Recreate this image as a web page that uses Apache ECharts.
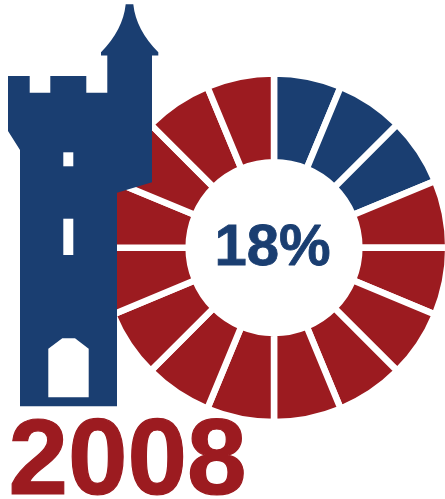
<!DOCTYPE html>
<html>
<head>
<meta charset="utf-8">
<style>html,body{margin:0;padding:0;background:#fff}#chart{width:445px;height:499px}</style>
<script src="https://cdn.jsdelivr.net/npm/echarts@6/dist/echarts.min.js"></script>
</head>
<body>
<div id="chart"></div>
<script>
// One wedge per sixteenth of the ring; the first ones are the filled share.
const wedgeShares = [1, 1, 1, 1, 1, 1, 1, 1, 1, 1, 1, 1, 1, 1, 1, 1];
const filledWedges = 3;
const shareLabel = '18%';
const yearLabel = '2008';

const BLUE = '#1a3e71';
const RED = '#9c1b20';
const GAP = 6.5;
const OUTER = 171;
const INNER = 88.6;

const towerPath =
  'M125.7 4.3 L133.3 4.3 Q136 30 158.3 52.3 L158.3 55.6 L152 55.6 L152 182.3 L117 192.7 ' +
  'L117 406.3 L20 406.3 L20 150 L8 131 L8 76 L29.7 76 L29.7 92.7 L50.3 92.7 L50.3 76 ' +
  'L86.3 76 L86.3 92.7 L107.3 92.7 L107.3 55.6 L101 55.6 L101 52.3 Q123 30 125.7 4.3 Z';
const towerOpenings = [
  'M63.3 152.3 L73.3 152.3 L73.3 166.3 L63.3 166.3 Z',
  'M63.3 218.7 L73.3 218.7 L73.3 255 L63.3 255 Z',
  'M48.3 348.7 L62.3 338.3 L75 338.3 L88.7 348.7 L88.7 397.3 L48.3 397.3 Z'
];

// The graphic component only knows registered shapes, so each outline gets its own.
function outlineElement(name, d, z, fill) {
  echarts.graphic.registerShape(name, echarts.graphic.extendPath(d));
  return { type: name, z, silent: true, style: { fill } };
}

const chart = echarts.init(document.getElementById('chart'), null, { renderer: 'canvas' });
chart.setOption({
  backgroundColor: '#ffffff',
  animation: false,
  series: [{
    type: 'pie',
    silent: true,
    center: [274, 247.7],
    radius: [INNER - GAP / 2, OUTER + GAP / 2],
    startAngle: 90,
    clockwise: true,
    label: { show: false },
    labelLine: { show: false },
    itemStyle: { borderColor: '#ffffff', borderWidth: GAP },
    data: wedgeShares.map((value, i) => ({
      value,
      itemStyle: { color: i < filledWedges ? BLUE : RED }
    }))
  }],
  graphic: {
    elements: [
      outlineElement('towerBody', towerPath, 10, BLUE),
      ...towerOpenings.map((d, i) => outlineElement('towerOpening' + i, d, 11, '#ffffff')),
      {
        type: 'text', z: 12, silent: true,
        style: {
          text: shareLabel, x: 272.5, y: 249, fill: BLUE, stroke: BLUE, lineWidth: 0.8,
          fontFamily: 'Liberation Sans', fontWeight: 'bold', fontSize: 58,
          textAlign: 'center', textVerticalAlign: 'middle'
        }
      },
      {
        type: 'text', z: 12, silent: true,
        style: {
          text: yearLabel, x: 127.5, y: 464, fill: RED, stroke: RED, lineWidth: 1.2,
          fontFamily: 'Liberation Sans', fontWeight: 'bold', fontSize: 107,
          textAlign: 'center', textVerticalAlign: 'middle'
        }
      }
    ]
  }
});
</script>
</body>
</html>
